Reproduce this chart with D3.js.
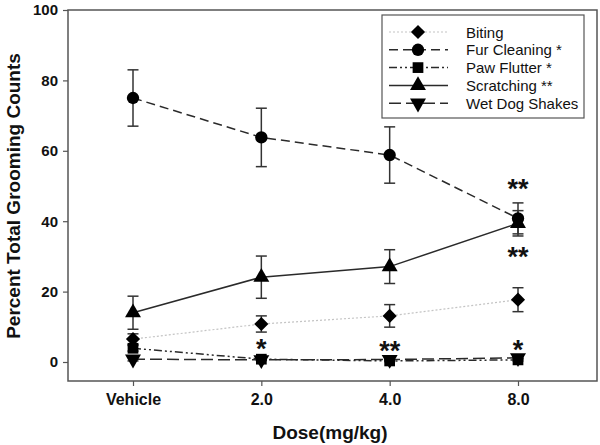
<!DOCTYPE html>
<html><head><meta charset="utf-8">
<script src="https://cdn.jsdelivr.net/npm/d3@7"></script>
<style>body{margin:0;background:#fff;} svg{display:block;font-family:"Liberation Sans",Arial,sans-serif;}</style>
</head><body><svg id="c" width="600" height="445"></svg>
<script>
const doses = ["Vehicle", "2.0", "4.0", "8.0"];
const yTicks = [0, 20, 40, 60, 80, 100];
const seriesNames = ["Biting", "Fur Cleaning *", "Paw Flutter *", "Scratching **", "Wet Dog Shakes"];
const bitingMean = [6.5, 10.8, 13.1, 17.7];
const bitingErr = [1.5, 2.3, 3.2, 3.4];
const furMean = [75, 63.8, 58.8, 40.8];
const furErr = [8, 8.3, 8, 4.4];
const pawMean = [3.9, 0.8, 0.3, 0.6];
const pawErr = [0.8, 0.3, 0.2, 0.3];
const scratchMean = [14, 24.1, 27.1, 39.4];
const scratchErr = [4.7, 6, 4.8, 3.6];
const wetMean = [0.8, 0.6, 0.7, 1.2];
const wetErr = [0.5, 0.2, 0.2, 0.3];
const stars = [
  {dose: "2.0", value: 0.8, text: "*", pos: "above"},
  {dose: "4.0", value: 0.3, text: "**", pos: "above"},
  {dose: "8.0", value: 0.6, text: "*", pos: "above"},
  {dose: "8.0", value: 46.4, text: "**", pos: "above"},
  {dose: "8.0", value: 35.6, text: "**", pos: "below"}
];

const series = [
  {name: seriesNames[0], mean: bitingMean, err: bitingErr, sym: d3.symbolSquare, size: 100, rot: 45, dash: "2,2", color: "#c4c4c4", w: 1.2},
  {name: seriesNames[1], mean: furMean, err: furErr, sym: d3.symbolCircle, size: 120, rot: 0, dash: "9,5", color: "#2a2a2a", w: 1.5},
  {name: seriesNames[2], mean: pawMean, err: pawErr, sym: d3.symbolSquare, size: 115, rot: 0, dash: "8,3,2,3,2,3", color: "#2a2a2a", w: 1.5},
  {name: seriesNames[3], mean: scratchMean, err: scratchErr, sym: d3.symbolTriangle, size: 110, rot: 0, dash: null, color: "#2a2a2a", w: 1.5},
  {name: seriesNames[4], mean: wetMean, err: wetErr, sym: d3.symbolTriangle, size: 110, rot: 180, dash: "12,5", color: "#2a2a2a", w: 1.5}
];

const svg = d3.select("#c");
const L = 68, R = 597, T = 10, B = 381;
const x = d3.scalePoint().domain(doses).range([133, 518]);
const y = d3.scaleLinear().domain([0, 100]).range([362, 10]);

// frame
svg.append("rect").attr("x", L).attr("y", T).attr("width", R - L).attr("height", B - T)
  .attr("fill", "none").attr("stroke", "#555").attr("stroke-width", 1.5);

// y axis
const ya = svg.append("g").attr("transform", `translate(${L},0)`)
  .call(d3.axisLeft(y).tickValues(yTicks).tickSize(5).tickPadding(5));
ya.select(".domain").remove();
ya.selectAll("line").attr("stroke", "#555").attr("stroke-width", 1.2);
ya.selectAll("text").attr("font-size", 15).attr("font-weight", "bold").attr("fill", "#111")
  .attr("font-family", "Liberation Sans, Arial, sans-serif");

// x axis
const xa = svg.append("g").attr("transform", `translate(0,${B})`)
  .call(d3.axisBottom(x).tickSize(5).tickPadding(8));
xa.select(".domain").remove();
xa.selectAll("line").attr("stroke", "#555").attr("stroke-width", 1.2);
xa.selectAll("text").attr("font-size", 16).attr("font-weight", "bold").attr("fill", "#111")
  .attr("font-family", "Liberation Sans, Arial, sans-serif");

// axis titles
svg.append("text").attr("x", 330).attr("y", 439).attr("text-anchor", "middle")
  .attr("font-size", 19).attr("font-weight", "bold").attr("fill", "#111").text("Dose(mg/kg)");
svg.append("text").attr("transform", "translate(20,196) rotate(-90)").attr("text-anchor", "middle")
  .attr("font-size", 19).attr("font-weight", "bold").attr("fill", "#111").text("Percent Total Grooming Counts");

const line = d3.line().x((d, i) => x(doses[i])).y(d => y(d));

// lines
series.forEach(s => {
  svg.append("path").attr("d", line(s.mean)).attr("fill", "none")
    .attr("stroke", s.color).attr("stroke-width", s.w)
    .attr("stroke-dasharray", s.dash);
});
// error bars
series.forEach(s => {
  const g = svg.append("g").attr("stroke", "#333").attr("stroke-width", 1.5);
  s.mean.forEach((m, i) => {
    const cx = x(doses[i]), e = s.err[i];
    g.append("line").attr("x1", cx).attr("x2", cx).attr("y1", y(m - e)).attr("y2", y(m + e));
    g.append("line").attr("x1", cx - 5.5).attr("x2", cx + 5.5).attr("y1", y(m - e)).attr("y2", y(m - e));
    g.append("line").attr("x1", cx - 5.5).attr("x2", cx + 5.5).attr("y1", y(m + e)).attr("y2", y(m + e));
  });
});
// markers
series.forEach(s => {
  s.mean.forEach((m, i) => {
    svg.append("path").attr("d", d3.symbol().type(s.sym).size(s.size)())
      .attr("transform", `translate(${x(doses[i])},${y(m)}) rotate(${s.rot})`)
      .attr("fill", "#000");
  });
});

// significance stars
stars.forEach(st => {
  const cy = st.pos === "above" ? y(st.value) - 16 : y(st.value) + 14;
  svg.append("text").attr("x", x(st.dose)).attr("y", cy + 15).attr("text-anchor", "middle")
    .attr("font-size", 27).attr("font-weight", "bold").attr("fill", "#111").text(st.text);
});

// legend
const lg = svg.append("g");
lg.append("rect").attr("x", 382).attr("y", 15).attr("width", 202).attr("height", 103)
  .attr("fill", "#fff").attr("stroke", "#555").attr("stroke-width", 1.2);
series.forEach((s, i) => {
  const ly = 32 + i * 17.8;
  lg.append("line").attr("x1", 389).attr("x2", 448).attr("y1", ly).attr("y2", ly)
    .attr("stroke", s.color).attr("stroke-width", s.w).attr("stroke-dasharray", s.dash);
  lg.append("path").attr("d", d3.symbol().type(s.sym).size(s.size)())
    .attr("transform", `translate(418,${ly}) rotate(${s.rot})`).attr("fill", "#000");
  lg.append("text").attr("x", 466).attr("y", ly + 5.5).attr("font-size", 15).attr("fill", "#111").text(s.name);
});
</script></body></html>
